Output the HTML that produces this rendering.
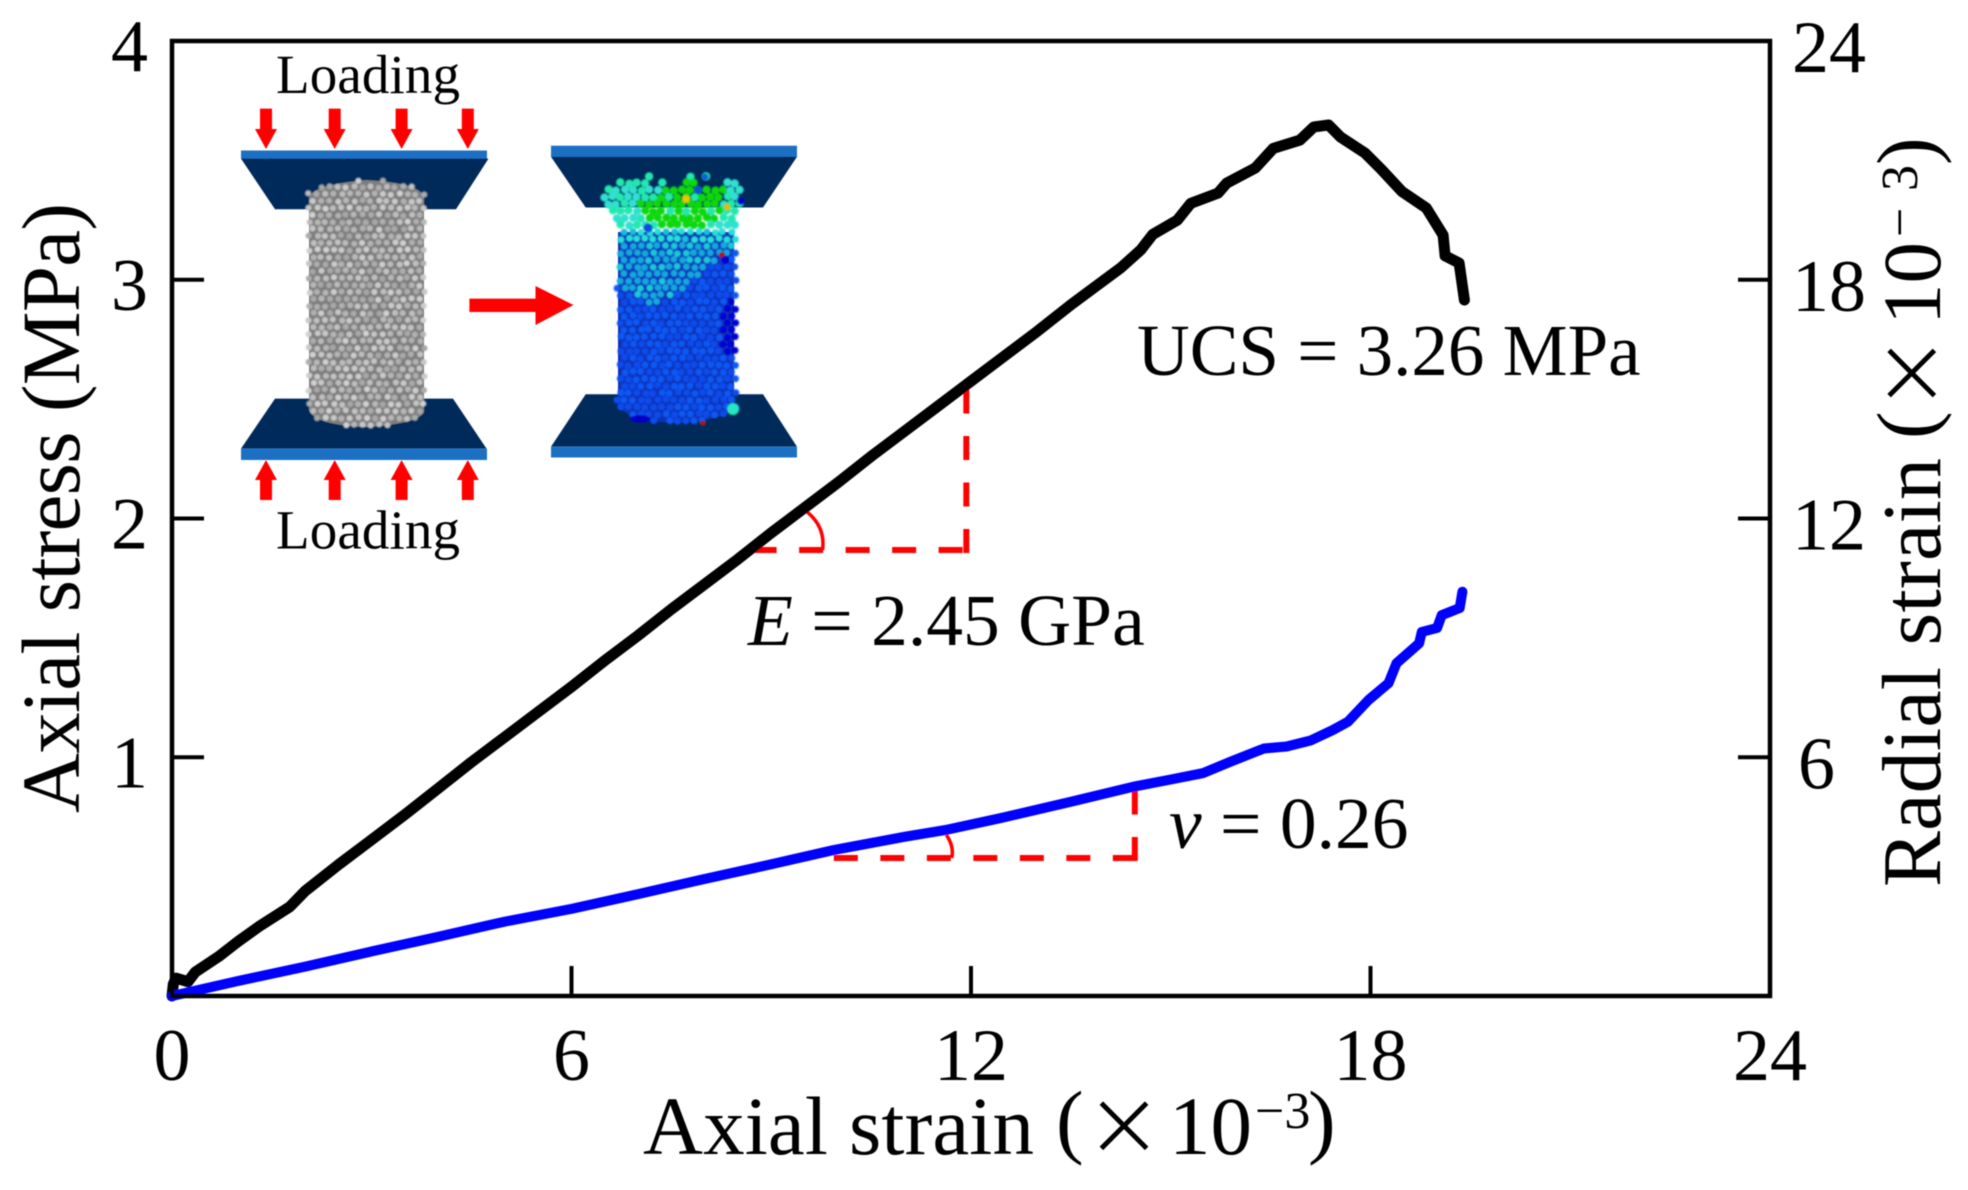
<!DOCTYPE html>
<html lang="en">
<head>
<meta charset="utf-8">
<title>Axial stress and radial strain versus axial strain</title>
<style>
html,body{margin:0;padding:0;background:#fff;}
body{width:1968px;height:1190px;overflow:hidden;}
svg{display:block;}
text{font-family:"Liberation Serif","Noto Serif CJK SC",serif;fill:#000;}
</style>
</head>
<body>
<svg id="chart" width="1968" height="1190" viewBox="0 0 1968 1190" xmlns="http://www.w3.org/2000/svg">
<defs>
<filter id="soft" x="-2%" y="-2%" width="104%" height="104%"><feGaussianBlur stdDeviation="0.6"/></filter>
<filter id="softer" x="-5%" y="-5%" width="110%" height="110%"><feGaussianBlur stdDeviation="0.7"/></filter>
</defs>
<rect width="1968" height="1190" fill="#fff"/>
<g id="root" filter="url(#soft)">

<g id="inset">
  <g>
    <rect x="241" y="150.5" width="246" height="8.5" fill="#1e70c4"/>
    <polygon points="241,158.6 488.5,158.6 456,209.3 275,209.3" fill="#002a5a"/>
    <polygon points="275,398.6 453,398.6 486.5,448.6 241,448.6" fill="#002a5a"/>
    <rect x="241" y="448.6" width="246" height="11.4" fill="#1e70c4"/>
    <path d="M309,198 Q311,185 366,180 Q422,183 424,198 L424,412 Q418,424 366,427 Q314,425 309,410 Z" fill="#7c7c7c"/>
    <g id="intact-particles" filter="url(#softer)"></g>
  </g>
  <g>
    <rect x="551" y="145.7" width="246" height="11.2" fill="#1e70c4"/>
    <polygon points="551,156.8 797,156.8 763,207.5 585.7,207.5" fill="#002a5a"/>
    <polygon points="585.7,394.3 763,394.3 797,446.8 551,446.8" fill="#002a5a"/>
    <rect x="551" y="446.8" width="246" height="10.7" fill="#1e70c4"/>
    <path d="M618,232 L734,232 L734,408 Q725,420 676,423 Q627,421 618,405 Z" fill="#0a33b8"/>
    <g id="failed-particles" filter="url(#softer)"></g>
    <g filter="url(#softer)">
      <circle cx="686" cy="199" r="4.2" fill="#e8c800"/>
      <circle cx="727" cy="207" r="3.6" fill="#d8c010"/>
      <circle cx="648" cy="228" r="4.5" fill="#0a50d8"/>
      <circle cx="698" cy="190" r="4" fill="#0a50d8"/>
      <circle cx="741" cy="201" r="3.6" fill="#0000d0"/>
      <circle cx="705" cy="177" r="3.4" fill="#0a60d8"/>
      <circle cx="733" cy="409" r="6" fill="#20e8c0"/>
      <circle cx="722" cy="255" r="3" fill="#b01818"/>
      <circle cx="725" cy="260" r="4" fill="#0000d0"/>
      <circle cx="703" cy="423" r="2.6" fill="#b01818"/>
      <ellipse cx="640" cy="419" rx="10" ry="3.6" fill="#0000c8"/>
    </g>
  </g>
  <g fill="#ff0000">
    <polygon points="260,108.6 272,108.6 272,129 277,129 266,149 255,129 260,129"/>
    <polygon points="328.7,108.6 340.7,108.6 340.7,129 345.7,129 334.7,149 323.7,129 328.7,129"/>
    <polygon points="395.6,108.6 407.6,108.6 407.6,129 412.6,129 401.6,149 390.6,129 395.6,129"/>
    <polygon points="461.8,108.6 473.8,108.6 473.8,129 478.8,129 467.8,149 456.8,129 461.8,129"/>
  </g>
  <g fill="#ff0000">
    <polygon points="260,500 272,500 272,480 277,480 266,460 255,480 260,480"/>
    <polygon points="328.7,500 340.7,500 340.7,480 345.7,480 334.7,460 323.7,480 328.7,480"/>
    <polygon points="395.6,500 407.6,500 407.6,480 412.6,480 401.6,460 390.6,480 395.6,480"/>
    <polygon points="461.8,500 473.8,500 473.8,480 478.8,480 467.8,460 456.8,480 461.8,480"/>
  </g>
  <polygon points="469.4,298.6 535.5,298.6 535.5,286 573.5,305 535.5,325 535.5,312 469.4,312" fill="#ff0000"/>
  <text x="276" y="93" font-size="55" textLength="184" lengthAdjust="spacing">Loading</text>
  <text x="276" y="548.6" font-size="55" textLength="184" lengthAdjust="spacing">Loading</text>
</g>

<g id="annotations"></g>
<g id="series"></g>
<g id="axes"></g>

<text x="1137" y="375" font-size="73">UCS = 3.26 MPa</text>
<text x="748" y="645" font-size="73.5"><tspan font-style="italic">E</tspan> = 2.45 GPa</text>
<text x="1169" y="848" font-size="73.5"><tspan font-style="italic">v</tspan> = 0.26</text>

<g>
  <text x="643" y="1154" font-size="83" textLength="391" lengthAdjust="spacing">Axial strain</text>
  <text x="1056" y="1148" font-size="83">(</text>
  <text x="1124" y="1154" font-size="76" text-anchor="middle" stroke="#000" stroke-width="1.6" style="font-family:'Noto Serif CJK SC',serif">×</text>
  <text x="1169" y="1154" font-size="83">10</text>
  <text x="1255" y="1128" font-size="52">−3</text>
  <text x="1308" y="1148" font-size="83">)</text>
</g>
<text transform="translate(79,813) rotate(-90)" font-size="83" textLength="610" lengthAdjust="spacing">Axial stress (MPa)</text>
<g>
  <text transform="translate(1940,887) rotate(-90)" font-size="84" textLength="429" lengthAdjust="spacing">Radial strain</text>
  <text transform="translate(1934,439) rotate(-90)" font-size="83">(</text>
  <text transform="translate(1940,373) rotate(-90)" font-size="76" text-anchor="middle" stroke="#000" stroke-width="1.6" style="font-family:'Noto Serif CJK SC',serif">×</text>
  <text transform="translate(1940,325) rotate(-90)" font-size="83">10</text>
  <text transform="translate(1917,237) rotate(-90)" font-size="52">−</text>
  <text transform="translate(1917,191) rotate(-90)" font-size="52">3</text>
  <text transform="translate(1934,165) rotate(-90)" font-size="83">)</text>
</g>
</g>
</svg>
<script>
// Chart data
const xTicks = [0, 6, 12, 18, 24];
const leftTicks = [1, 2, 3, 4];
const rightTicks = [6, 12, 18, 24];

const stressStrain = [0, 0.02, 0.06, 0.24, 0.35, 0.7, 1.0, 1.3, 1.77, 2.0, 2.5, 3.0, 3.5, 4.0, 4.5, 5.0, 5.5, 6.0, 6.5, 7.0, 7.5, 8.0, 8.5, 9.0, 9.5, 10.0, 10.5, 11.0, 11.5, 12.0, 12.5, 13.0, 13.5, 13.94, 14.25, 14.55, 14.73, 15.1, 15.3, 15.71, 15.84, 16.27, 16.54, 16.94, 17.15, 17.37, 17.55, 17.92, 18.17, 18.47, 18.84, 19.09, 19.12, 19.33, 19.41];
const stressValues = [0, 0.05, 0.075, 0.06, 0.10, 0.165, 0.23, 0.29, 0.374, 0.44, 0.55, 0.655, 0.76, 0.87, 0.98, 1.085, 1.19, 1.295, 1.405, 1.51, 1.62, 1.725, 1.83, 1.94, 2.045, 2.15, 2.26, 2.365, 2.47, 2.575, 2.68, 2.785, 2.895, 2.986, 3.05, 3.125, 3.19, 3.25, 3.32, 3.363, 3.405, 3.468, 3.55, 3.585, 3.64, 3.648, 3.598, 3.53, 3.46, 3.37, 3.30, 3.187, 3.10, 3.07, 2.915];

const radialStrainX = [0, 1, 2, 3, 4, 5, 6, 7, 7.93, 9, 9.94, 11, 11.61, 12.5, 13.5, 14.44, 15, 15.48, 15.9, 16.4, 16.74, 17.1, 17.43, 17.66, 17.97, 18.27, 18.39, 18.73, 18.77, 19.0, 19.07, 19.34, 19.38];
const radialStrainValues = [0, 0.38, 0.74, 1.12, 1.49, 1.87, 2.19, 2.56, 2.915, 3.31, 3.67, 4.0, 4.17, 4.49, 4.88, 5.26, 5.44, 5.60, 5.89, 6.22, 6.27, 6.42, 6.68, 6.89, 7.44, 7.86, 8.36, 8.86, 9.15, 9.25, 9.57, 9.75, 10.16];

const modulusTriangleX = [8.72, 11.93];
const modulusTriangleStress = [1.868, 2.567];
const poissonTriangleX = [9.94, 14.46];
const poissonTriangleRadial = [3.468, 5.35];

// Axis functions
const plot = {left: 172, right: 1770, top: 41, bottom: 996};
const sx = v => plot.left + v / 24 * (plot.right - plot.left);
const syStress = v => plot.bottom - v / 4 * (plot.bottom - plot.top);
const syRadial = v => plot.bottom - v / 24 * (plot.bottom - plot.top);

const NS = 'http://www.w3.org/2000/svg';
function make(tag, attrs, parent) {
  const el = document.createElementNS(NS, tag);
  for (const k in attrs) el.setAttribute(k, attrs[k]);
  parent.appendChild(el);
  return el;
}
function pathFrom(xs, ys, fx, fy) {
  return xs.map((x, i) => (i ? 'L' : 'M') + fx(x).toFixed(1) + ',' + fy(ys[i]).toFixed(1)).join(' ');
}

const axes = document.getElementById('axes');
const series = document.getElementById('series');
const annotations = document.getElementById('annotations');

// Frame
const frame = make('rect', {x: plot.left, y: plot.top, width: plot.right - plot.left, height: plot.bottom - plot.top, fill: 'none', stroke: '#000', 'stroke-width': 4.5}, axes);



// X ticks and labels
xTicks.forEach(t => {
  if (t > 0 && t < 24) {
    const tick = make('line', {x1: sx(t), x2: sx(t), y1: plot.bottom, y2: plot.bottom - 30, stroke: '#000', 'stroke-width': 4}, axes);
    
    
  }
  const label = make('text', {x: sx(t), y: 1080, 'font-size': 74, 'text-anchor': 'middle'}, axes);
  label.textContent = t;
  
  
});

// Left ticks and labels
leftTicks.forEach(t => {
  if (t < 4) {
    const tick = make('line', {x1: plot.left, x2: plot.left + 32, y1: syStress(t), y2: syStress(t), stroke: '#000', 'stroke-width': 4}, axes);
    
    
  }
  const label = make('text', {x: 148, y: syStress(t) + 30, 'font-size': 74, 'text-anchor': 'end'}, axes);
  label.textContent = t;
  
  
});

// Right ticks and labels
rightTicks.forEach(t => {
  if (t < 24) {
    const tick = make('line', {x1: plot.right, x2: plot.right - 32, y1: syRadial(t), y2: syRadial(t), stroke: '#000', 'stroke-width': 4}, axes);
    
    
  }
  const label = make('text', {x: t < 10 ? 1798 : 1792, y: syRadial(t) + 31, 'font-size': 74}, axes);
  label.textContent = t;
  
  
});

// Slope annotations
const red = {fill: 'none', stroke: '#ff0000', 'stroke-width': 6, 'stroke-dasharray': '24 22.5'};
const mh = make('line', Object.assign({x1: sx(modulusTriangleX[0]), x2: sx(modulusTriangleX[1]), y1: syStress(modulusTriangleStress[0]), y2: syStress(modulusTriangleStress[0])}, red), annotations);


const mv = make('line', Object.assign({x1: sx(modulusTriangleX[1]), x2: sx(modulusTriangleX[1]), y1: syStress(modulusTriangleStress[0]) + 3, y2: syStress(modulusTriangleStress[1])}, red), annotations);


const ph = make('line', Object.assign({x1: sx(poissonTriangleX[0]), x2: sx(poissonTriangleX[1]) + 3, y1: syRadial(poissonTriangleRadial[0]), y2: syRadial(poissonTriangleRadial[0])}, red), annotations);


const pv = make('line', Object.assign({x1: sx(poissonTriangleX[1]), x2: sx(poissonTriangleX[1]), y1: syRadial(poissonTriangleRadial[0]) + 3, y2: syRadial(poissonTriangleRadial[1])}, red), annotations);



const arc1 = make('path', {d: 'M' + sx(9.50) + ',' + syStress(2.036) + ' Q' + sx(9.82) + ',' + syStress(1.97) + ' ' + sx(9.77) + ',' + syStress(1.868), fill: 'none', stroke: '#ff0000', 'stroke-width': 3.5}, annotations);


const arc2 = make('path', {d: 'M' + sx(11.63) + ',' + syRadial(4.05) + ' Q' + sx(11.75) + ',' + syRadial(3.75) + ' ' + sx(11.71) + ',' + syRadial(3.468), fill: 'none', stroke: '#ff0000', 'stroke-width': 3.5}, annotations);



// Series
const stressLine = make('path', {d: pathFrom(stressStrain, stressValues, sx, syStress), fill: 'none', stroke: '#000', 'stroke-width': 11, 'stroke-linejoin': 'round', 'stroke-linecap': 'round'}, series);


const radialLine = make('path', {d: pathFrom(radialStrainX, radialStrainValues, sx, syRadial), fill: 'none', stroke: '#0000ff', 'stroke-width': 10, 'stroke-linejoin': 'round', 'stroke-linecap': 'round'}, series);



// Illustration only (not chart data): texture of the DEM specimens in the inset
function grain(i, j) {
  const s = Math.sin(i * 12.9898 + j * 78.233) * 43758.5453;
  return s - Math.floor(s);
}
function inside(poly, x, y) {
  let hit = false;
  for (let a = 0, b = poly.length - 1; a < poly.length; b = a++) {
    const [xa, ya] = poly[a], [xb, yb] = poly[b];
    if ((ya > y) !== (yb > y) && x < (xb - xa) * (y - ya) / (yb - ya) + xa) hit = !hit;
  }
  return hit;
}
const intactGroup = document.getElementById('intact-particles');
const failedGroup = document.getElementById('failed-particles');

for (let j = 0; j < 36; j++) {
  for (let i = 0; i < 15; i++) {
    const px = 309 + i * 8.2 + (j % 2) * 4.1 + (grain(i, j) - 0.5) * 1.6;
    const py = 180 + j * 7 + (grain(j, i) - 0.5) * 1.6;
    const u = (px - 366) / 60;
    if (Math.abs(u) > 1) continue;
    const arc = 16 * Math.sqrt(1 - u * u);
    if (py < 196 - arc || py > 411 + arc) continue;
    const shade = Math.round(165 + grain(i + 3, j + 7) * 45);
    const ball = make('circle', {cx: px.toFixed(1), cy: py.toFixed(1), r: 3.1, fill: 'rgb(' + shade + ',' + shade + ',' + shade + ')'}, intactGroup);
    
    
  }
}

const rubbleOutline = [[608,176],[626,178],[650,176],[668,180],[690,176],[710,176],[738,184],[743,200],[738,228],[618,228],[606,214],[601,200]];
const greenOutline = [[636,205],[665,186],[695,180],[724,188],[722,215],[700,228],[670,231],[645,222]];
const skyOutline = [[617,243],[736,243],[736,252],[715,263],[693,280],[677,293],[650,307],[630,295],[617,280]];
const darkOutline = [[720,303],[736,298],[736,355],[726,355],[719,335]];

for (let j = 0; j < 36; j++) {
  for (let i = 0; i < 18; i++) {
    const px = 600 + i * 8.2 + (j % 2) * 4.1 + (grain(i + 11, j) - 0.5) * 1.6;
    const py = 176 + j * 7 + (grain(j, i + 5) - 0.5) * 1.6;
    const noise = grain(i + 1, j + 2);
    let fill = null, r = 3.5;
    if (inside(rubbleOutline, px, py)) {
      r = 4.1;
      if (inside(greenOutline, px, py)) fill = noise > 0.88 ? '#22e8a8' : '#08d810';
      else fill = noise > 0.5 ? '#22e8b0' : '#30e0d0';
      if (py < 184 && noise < 0.35) fill = null;
    } else if (py >= 228 && px > 617 && px < 736) {
      const u = (px - 676) / 60;
      const bottom = 406 + 16 * Math.sqrt(Math.max(0, 1 - u * u));
      if (py > bottom) continue;
      if (py < 243) fill = noise > 0.4 ? '#28e0d8' : '#18c0d8';
      else if (inside(skyOutline, px, py)) fill = noise > 0.2 ? '#12a8dc' : '#1cc8d8';
      else if (inside(darkOutline, px, py)) fill = '#0000d4';
      else fill = noise > 0.5 ? '#0d4cec' : '#1058f4';
    }
    if (!fill) continue;
    const ball = make('circle', {cx: px.toFixed(1), cy: py.toFixed(1), r: r, fill: fill}, failedGroup);
    
    
  }
}
</script>
</body>
</html>
